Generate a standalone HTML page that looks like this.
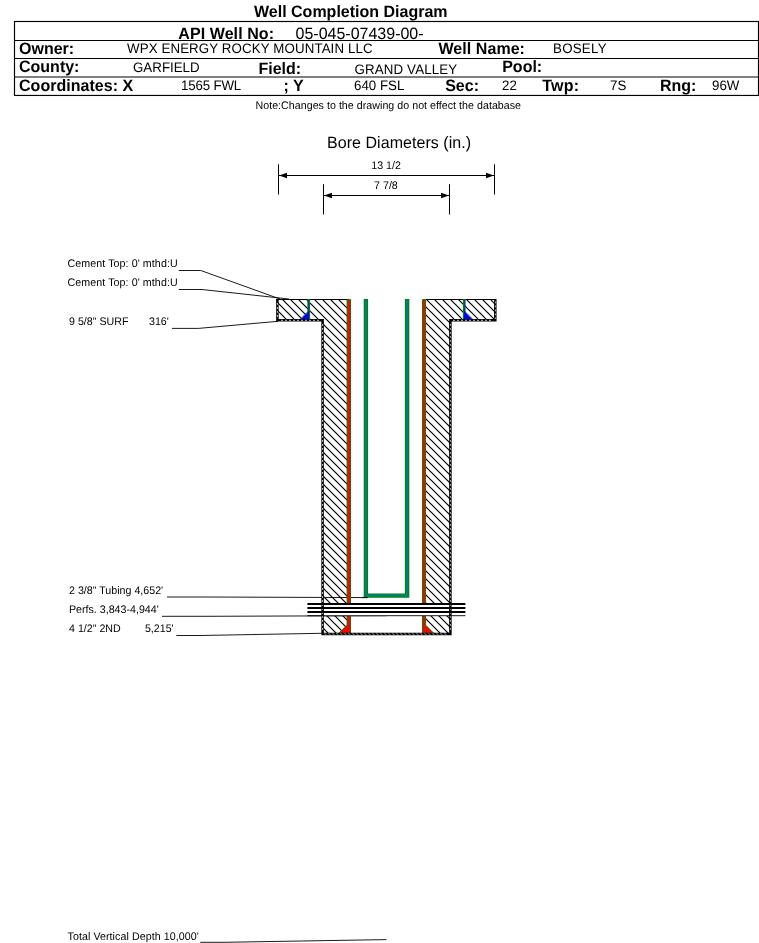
<!DOCTYPE html>
<html>
<head>
<meta charset="utf-8">
<title>Well Completion Diagram</title>
<style>
html,body{margin:0;padding:0;background:#fff;}
body{width:759px;height:943px;overflow:hidden;position:relative;font-family:"Liberation Sans",Arial,sans-serif;color:#000;}
svg{position:absolute;left:0;top:0;display:block;will-change:transform;}
text{font-family:"Liberation Sans",Arial,sans-serif;fill:#000;text-rendering:geometricPrecision;}
.b{font-weight:bold;font-size:16px;}
.v{font-size:13.33px;}
.n{font-size:16px;}
.s{font-size:10.67px;}
</style>
</head>
<body>
<svg width="759" height="943" viewBox="0 0 759 943">
<rect x="0" y="0" width="759" height="943" fill="#fff"/>
<defs>
<pattern id="hatch" patternUnits="userSpaceOnUse" width="8" height="8" x="-1" y="0">
<path d="M-2,-2 L10,10 M-2,6 L2,10 M6,-2 L10,2" stroke="#000" stroke-width="1.2" fill="none"/>
</pattern>
</defs>
<!-- header table -->
<g id="header" stroke="#000" stroke-width="1.15" fill="none">
<rect x="14.5" y="21.5" width="744" height="73.95"/>
<line x1="14" y1="40.45" x2="758" y2="40.45"/>
<line x1="14" y1="58.5" x2="758" y2="58.5"/>
<line x1="14" y1="77" x2="758" y2="77"/>
</g>
<!-- bore diameters -->
<g id="bore">
<g stroke="#000" stroke-width="1" fill="none">
<line x1="278.5" y1="164.3" x2="278.5" y2="194.5"/>
<line x1="494.5" y1="164.3" x2="494.5" y2="194.5"/>
<line x1="279" y1="175.5" x2="494" y2="175.5"/>
<line x1="323.5" y1="184.2" x2="323.5" y2="214.5"/>
<line x1="449.5" y1="184.2" x2="449.5" y2="214.5"/>
<line x1="324" y1="195.5" x2="449" y2="195.5"/>
</g>
<g fill="#000">
<path d="M279,175.5 L287,172.7 L287,178.3 Z"/>
<path d="M494,175.5 L486,172.7 L486,178.3 Z"/>
<path d="M324,195.5 L332,192.7 L332,198.3 Z"/>
<path d="M449,195.5 L441,192.7 L441,198.3 Z"/>
</g>
</g>
<!-- leader lines -->
<g id="leaders" stroke="#000" stroke-width="0.9" fill="none">
<path d="M178.8,270.5 H200.8 L280,299"/>
<path d="M178.8,289.5 H202 L289,299"/>
<path d="M172,328.4 H198.5 L278,321.3"/>
<path d="M167,597 H204 L367.5,597.6"/>
<path d="M162,616.3 H204 L386.5,615.7"/>
<path d="M176.4,635.5 H200 L322,633.3"/>
<path d="M200.3,942.3 H224 L386.4,939.6"/>
</g>
<!-- well diagram -->
<g id="well">
<!-- hatched annulus -->
<path d="M277.4,299 H347.5 V633.8 H322.6 V320.4 H277.4 Z" fill="url(#hatch)"/>
<path d="M425.5,299 H495.2 V320.4 H450.4 V633.8 H425.5 Z" fill="url(#hatch)"/>
<g stroke="#000" stroke-width="1.1" fill="none">
<line x1="276.1" y1="299.5" x2="347" y2="299.5"/>
<line x1="426" y1="299.5" x2="496" y2="299.5"/>
</g>
<!-- surface casing -->
<g>
<rect x="307.35" y="299" width="2.75" height="20.4" fill="#008000"/>
<rect x="308" y="300" width="1" height="19.4" fill="#1030c8"/>
<path d="M308,311.7 L300.2,319.4 H309 V311.7 Z" fill="#00f"/>
<path d="M300.1,319.3 L307.8,311.7" fill="none" stroke="#208020" stroke-width="0.8"/>
<rect x="462.9" y="299" width="2.75" height="20.4" fill="#008000"/>
<rect x="464" y="300" width="1" height="19.4" fill="#1030c8"/>
<path d="M465,311.7 L472.8,319.4 H464 V311.7 Z" fill="#00f"/>
<path d="M472.9,319.3 L465.2,311.7" fill="none" stroke="#208020" stroke-width="0.8"/>
</g>
<!-- production casing -->
<g fill="#f00" stroke="#008000" stroke-width="1" stroke-linejoin="miter">
<path d="M347.1,299.6 H350.5 V633.3 H338.9 L347.1,625.2 Z"/>
<path d="M425.6,299.6 H422.5 V633.3 H433.9 L425.6,625.2 Z"/>
</g>
<!-- hole outline -->
<path d="M277.4,299 V320.3 H322.6 V633.9 H450.4 V320.3 H495.3 V299" fill="none" stroke="#000" stroke-width="2.5" stroke-linejoin="miter"/>
<g fill="none" stroke="#f0f0f0" stroke-width="0.85" stroke-dasharray="1.9 2.1">
<path d="M277.4,303 V319"/>
<path d="M281,320.3 H320.5"/>
<path d="M322.6,324 V632"/>
<path d="M450.5,324 V632" stroke="#d4d4d4" stroke-width="0.8" stroke-dasharray="1.7 2.3"/>
<path d="M453,320.3 H493"/>
<path d="M495.4,301.4 V319" stroke-width="0.8" stroke="#eee"/>
</g>
<path d="M324.5,0 H448.5" transform="translate(0 634.05) skewX(50)" fill="none" stroke="#909090" stroke-width="1.5" stroke-dasharray="1.5 2.5"/>
<!-- tubing -->
<path d="M365.9,299.1 V595.6 H407.1 V299.1" fill="none" stroke="#008000" stroke-width="4.4" stroke-linejoin="miter"/>
<path d="M365.9,299.9 V595.6 H407.1 V299.9" fill="none" stroke="#008080" stroke-width="2.4" stroke-linejoin="miter"/>
<path d="M362,597.58 L367.6,597.6" fill="none" stroke="#000" stroke-width="0.9"/>
<!-- perforations -->
<rect x="324" y="604" width="125" height="12" fill="#fff"/>
<g stroke="#000" fill="none">
<line x1="307.4" y1="604" x2="465.4" y2="604" stroke-width="1.8"/>
<line x1="307.4" y1="608" x2="465.4" y2="608" stroke-width="1.8"/>
<line x1="307.4" y1="612" x2="465.4" y2="612" stroke-width="1.8"/>
<line x1="307.4" y1="615.7" x2="465.4" y2="615.7" stroke-width="0.9"/>
</g>
</g>

<g id="labels">
<text class="b" transform="translate(254.00 16.60) scale(1 1.030)">Well Completion Diagram</text>
<text class="b" transform="translate(178.30 38.75) scale(1 1.030)" textLength="95.72">API Well No:</text>
<text class="n" transform="translate(295.50 39.00) scale(1 1.030)">05-045-07439-00-</text>
<text class="b" transform="translate(19.00 53.75) scale(1 1.030)">Owner:</text>
<text class="v" transform="translate(127.00 53.00) scale(1 1.030)" textLength="245.59">WPX ENERGY ROCKY MOUNTAIN LLC</text>
<text class="b" transform="translate(438.50 53.75) scale(1 1.030)" textLength="86.45">Well Name:</text>
<text class="v" transform="translate(553.00 53.00) scale(1 1.030)" textLength="53.55">BOSELY</text>
<text class="b" transform="translate(19.00 72.05) scale(1 1.030)">County:</text>
<text class="v" transform="translate(133.00 71.80) scale(1 1.030)">GARFIELD</text>
<text class="b" transform="translate(258.50 73.95) scale(1 1.030)">Field:</text>
<text class="v" transform="translate(354.40 74.00) scale(1 1.030)" textLength="102.83">GRAND VALLEY</text>
<text class="b" transform="translate(502.20 71.75) scale(1 1.030)">Pool:</text>
<text class="b" transform="translate(19.00 90.75) scale(1 1.030)" textLength="114.19">Coordinates: X</text>
<text class="v" transform="translate(181.00 90.20) scale(1 1.030)" textLength="60.29">1565 FWL</text>
<text class="b" transform="translate(283.50 90.75) scale(1 1.030)">; Y</text>
<text class="v" transform="translate(354.00 90.30) scale(1 1.030)">640 FSL</text>
<text class="b" transform="translate(445.20 90.75) scale(1 1.030)">Sec:</text>
<text class="v" transform="translate(502.00 90.20) scale(1 1.030)">22</text>
<text class="b" transform="translate(542.30 90.75) scale(1 1.030)" textLength="36.73">Twp:</text>
<text class="v" transform="translate(610.00 90.20) scale(1 1.030)">7S</text>
<text class="b" transform="translate(660.00 90.75) scale(1 1.030)">Rng:</text>
<text class="v" transform="translate(712.00 90.20) scale(1 1.030)">96W</text>
<text class="s" transform="translate(255.50 109.00) scale(1 1.030)" textLength="265.53">Note:Changes to the drawing do not effect the database</text>
<text class="n" transform="translate(327.00 147.50) scale(1 1.030)" textLength="144.05">Bore Diameters (in.)</text>
<text class="s" transform="translate(371.20 168.60) scale(1 1.030)">13 1/2</text>
<text class="s" transform="translate(374.10 188.60) scale(1 1.030)">7 7/8</text>
<text class="s" transform="translate(67.50 267.00) scale(1 1.030)" textLength="110.14">Cement Top: 0' mthd:U</text>
<text class="s" transform="translate(67.50 286.00) scale(1 1.030)" textLength="110.14">Cement Top: 0' mthd:U</text>
<text class="s" transform="translate(69.00 325.00) scale(1 1.030)">9 5/8" SURF</text>
<text class="s" transform="translate(149.00 325.00) scale(1 1.030)">316'</text>
<text class="s" transform="translate(69.00 593.80) scale(1 1.030)">2 3/8" Tubing 4,652'</text>
<text class="s" transform="translate(69.00 612.80) scale(1 1.030)">Perfs. 3,843-4,944'</text>
<text class="s" transform="translate(69.00 631.80) scale(1 1.030)">4 1/2" 2ND</text>
<text class="s" transform="translate(144.90 631.80) scale(1 1.030)">5,215'</text>
<text class="s" transform="translate(67.50 939.60) scale(1 1.030)" textLength="131.30">Total Vertical Depth 10,000'</text>
</g>
</svg>
</body>
</html>
